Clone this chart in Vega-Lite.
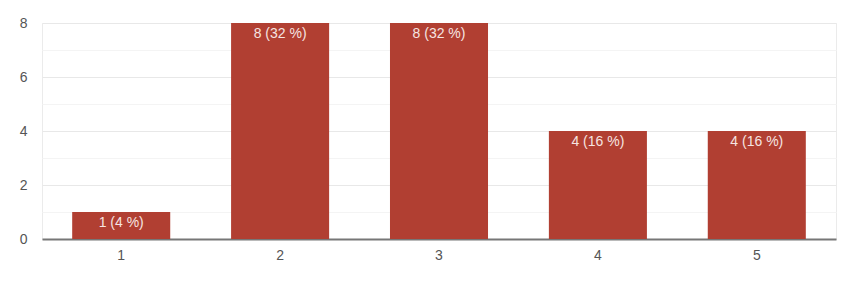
{
  "$schema": "https://vega.github.io/schema/vega-lite/v6.json",
  "width": 794,
  "height": 216,
  "autosize": {"type": "none"},
  "padding": {"left": 42, "top": 23, "right": 14, "bottom": 61},
  "background": "white",
  "config": {
    "font": "Liberation Sans",
    "view": {"stroke": "#ebebeb", "strokeWidth": 1}
  },
  "data": {
    "values": [
      {"rating": "1", "count": 1, "label": "1 (4 %)"},
      {"rating": "2", "count": 8, "label": "8 (32 %)"},
      {"rating": "3", "count": 8, "label": "8 (32 %)"},
      {"rating": "4", "count": 4, "label": "4 (16 %)"},
      {"rating": "5", "count": 4, "label": "4 (16 %)"}
    ]
  },
  "encoding": {
    "x": {
      "field": "rating",
      "type": "nominal",
      "scale": {"paddingInner": 0.383, "paddingOuter": 0.19},
      "axis": {
        "title": null,
        "labelAngle": 0,
        "labelFontSize": 14,
        "labelColor": "#555",
        "labelPadding": 9,
        "ticks": false,
        "domainColor": "#777",
        "domainWidth": 2,
        "grid": false
      }
    },
    "y": {
      "field": "count",
      "type": "quantitative",
      "scale": {"domain": [0, 8], "nice": false},
      "axis": {
        "title": null,
        "values": [0, 1, 2, 3, 4, 5, 6, 7, 8],
        "labelExpr": "datum.value % 2 === 0 ? datum.label : ''",
        "labelFontSize": 14,
        "labelColor": "#555",
        "labelPadding": 15,
        "ticks": false,
        "domain": false,
        "gridColor": {
          "condition": {"test": "datum.value % 2 === 0", "value": "#e8e8e8"},
          "value": "#f4f4f4"
        }
      }
    }
  },
  "layer": [
    {
      "mark": {"type": "bar", "color": "#b13f32"}
    },
    {
      "mark": {
        "type": "text",
        "baseline": "top",
        "dy": 4,
        "fontSize": 14,
        "color": "#f6e4e1"
      },
      "encoding": {"text": {"field": "label"}}
    }
  ]
}
